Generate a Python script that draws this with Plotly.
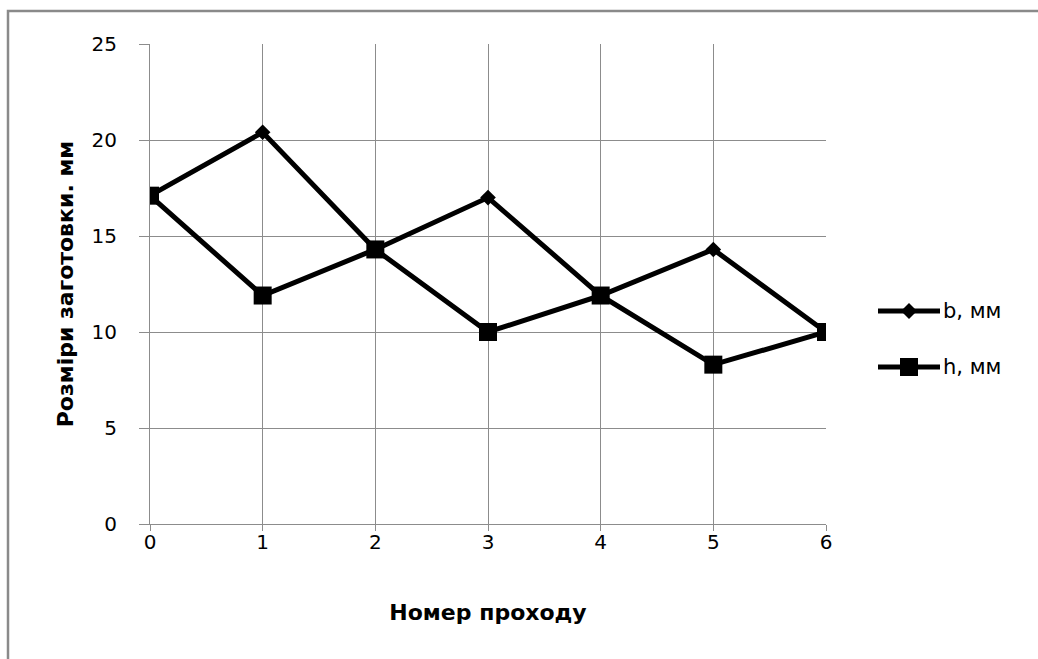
import plotly.graph_objects as go

# Номер проходу
passes = [0, 1, 2, 3, 4, 5, 6]
# Розміри заготовки, мм
b_mm = [17.1, 20.4, 14.3, 17.0, 11.9, 14.3, 10.0]
h_mm = [17.1, 11.9, 14.3, 10.0, 11.9, 8.3, 10.0]
series_names = ["b, мм", "h, мм"]
y_ticks = [0, 5, 10, 15, 20, 25]

FONT = "DejaVu Sans"
GRID = "#8c8c8c"
FRAME = "#8a8a8a"

# plot area in pixels
W, H = 1038, 659
L, R, T, B = 150, 212, 44, 135
PW, PH = W - L - R, H - T - B

fig = go.Figure()
fig.add_trace(go.Scatter(
    x=passes, y=b_mm, name=series_names[0], mode="lines+markers",
    line=dict(color="black", width=5),
    marker=dict(symbol="diamond", size=12, color="black"),
    showlegend=False,
))
fig.add_trace(go.Scatter(
    x=passes, y=h_mm, name=series_names[1], mode="lines+markers",
    line=dict(color="black", width=5),
    marker=dict(symbol="square", size=18, color="black"),
    showlegend=False,
))

fig.update_layout(
    width=W, height=H,
    margin=dict(l=L, r=R, t=T, b=B),
    paper_bgcolor="white", plot_bgcolor="white",
    font=dict(family=FONT, size=20, color="black"),
    xaxis=dict(
        range=[0, 6], tickvals=passes, ticktext=[str(p) for p in passes],
        showgrid=True, gridcolor=GRID, gridwidth=1,
        showline=True, linecolor=GRID, linewidth=1,
        ticks="",
        minor=dict(ticks="outside", tickvals=passes, ticklen=6, tickcolor=GRID, showgrid=False),
        ticklabelstandoff=0,
        tickfont=dict(family=FONT, size=20),
        zeroline=False,
        title=dict(text="<b>Номер проходу</b>", font=dict(family=FONT, size=22), standoff=51),
    ),
    yaxis=dict(
        range=[0, 25], tickvals=y_ticks,
        showgrid=True, gridcolor=GRID, gridwidth=1,
        showline=True, linecolor=GRID, linewidth=1,
        ticks="outside", ticklen=10, tickcolor=GRID,
        ticklabelstandoff=18,
        tickfont=dict(family=FONT, size=20),
        zeroline=False,
        title=dict(text="<b>Розміри заготовки. мм</b>", font=dict(family=FONT, size=22), standoff=11),
    ),
)

# legend drawn by hand: long line sample with the marker in its middle
def px_x(px):
    return (px - L) / PW

def px_y(py):
    return (H - B - py) / PH

legend_rows = [(311, "diamond"), (367, "square")]
x0, x1 = px_x(878), px_x(940)
xm = (x0 + x1) / 2
for (row_y, sym), label in zip(legend_rows, series_names):
    y = px_y(row_y)
    fig.add_shape(type="line", xref="paper", yref="paper",
                  x0=x0, x1=x1, y0=y, y1=y,
                  line=dict(color="black", width=5))
    if sym == "diamond":
        path = "M -8 0 L 0 -8 L 8 0 L 0 8 Z"
    else:
        path = "M -9 -9 L 9 -9 L 9 9 L -9 9 Z"
    fig.add_shape(type="path", xref="paper", yref="paper",
                  xsizemode="pixel", ysizemode="pixel",
                  xanchor=xm, yanchor=y, path=path,
                  fillcolor="black", line=dict(color="black", width=0))
    fig.add_annotation(xref="paper", yref="paper", x=x1, y=y,
                       text=label, showarrow=False,
                       xanchor="left", yanchor="middle", xshift=1,
                       font=dict(family=FONT, size=21, color="black"))

# chart frame (left and top edges visible)
fig.add_shape(type="path", xref="paper", yref="paper",
              path=f"M {px_x(8)} {px_y(700)} L {px_x(8)} {px_y(11)} L {px_x(1100)} {px_y(11)}",
              line=dict(color=FRAME, width=2.5))

fig.write_html("out.html")
